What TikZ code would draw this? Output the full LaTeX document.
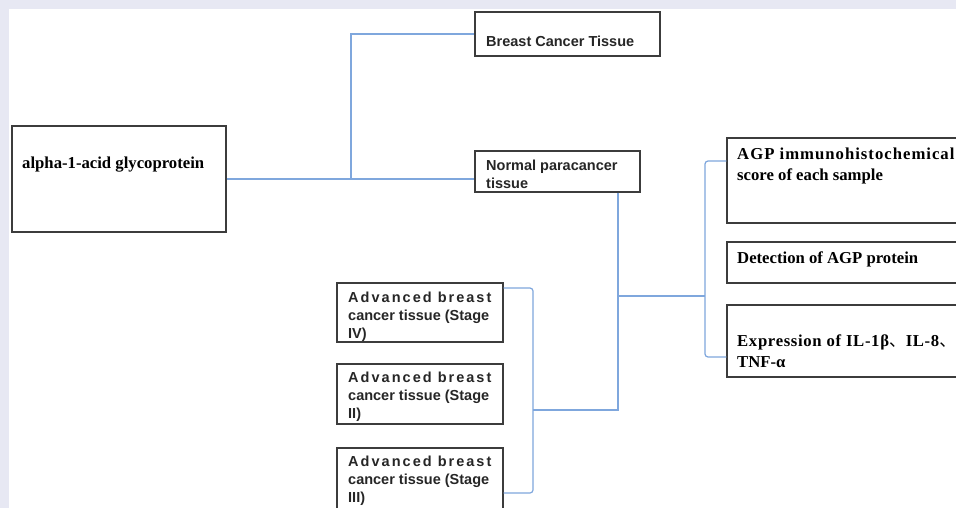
\documentclass[tikz,border=0pt]{standalone}
\usepackage{fontspec}
\setmainfont{Liberation Serif}
\newfontfamily\arial{Liberation Sans}
\newfontfamily\cjk{Noto Sans CJK SC}
\definecolor{bgframe}{HTML}{E7E8F3}
\definecolor{link}{HTML}{7FA7DD}
\definecolor{boxline}{HTML}{3C3C3C}
\tikzset{
  boxnode/.style={draw=boxline, line width=1.2pt, fill=white, inner sep=0pt, rectangle},
  serif/.style={font=\fontsize{16.7}{20.5}\selectfont\bfseries, inner sep=0pt, anchor=base west, align=left, text=black},
  sans/.style={font=\arial\fontsize{14.5}{17.7}\selectfont\bfseries, inner sep=0pt, anchor=base west, align=left, text=black!85},
  linkline/.style={draw=link, line width=1.2pt},
}
\begin{document}
\begin{tikzpicture}[x=1pt,y=-1pt]
\clip (0,0) rectangle (956,508);
\fill[bgframe] (0,0) rectangle (956,508);
\fill[white] (9,9) rectangle (970,520);
% boxes
\node[boxnode, minimum width=214pt, minimum height=106pt] (alpha) at (119,179) {};
\node[boxnode, minimum width=185pt, minimum height=44pt] (bct) at (567.5,34) {};
\node[boxnode, minimum width=165pt, minimum height=41pt] (npt) at (557.5,171.5) {};
\node[boxnode, minimum width=166pt, minimum height=59pt] (s4) at (420,312.5) {};
\node[boxnode, minimum width=166pt, minimum height=60pt] (s2) at (420,394) {};
\node[boxnode, minimum width=166pt, minimum height=70pt] (s3) at (420,483) {};
\node[boxnode, minimum width=250pt, minimum height=85pt] (agp) at (852,180.5) {};
\node[boxnode, minimum width=250pt, minimum height=41pt] (det) at (852,262.5) {};
\node[boxnode, minimum width=250pt, minimum height=72pt] (exp) at (852,341) {};
% texts (base anchor = last line baseline)
\node[serif] (talpha) at (22,168) {alpha-1-acid glycoprotein};
\node[sans] (tbct) at (486,47) {Breast Cancer Tissue};
\node[sans] (tnpt) at (486,188) {Normal paracancer\\tissue};
\node[sans] (ts4) at (348,338) {{\addfontfeature{LetterSpace=14}Advanced breast}\\cancer tissue (Stage\\IV)};
\node[sans] (ts2) at (348,418) {{\addfontfeature{LetterSpace=14}Advanced breast}\\cancer tissue (Stage\\II)};
\node[sans] (ts3) at (348,502) {{\addfontfeature{LetterSpace=14}Advanced breast}\\cancer tissue (Stage\\III)};
\node[serif] (tagp) at (737,180) {{\addfontfeature{LetterSpace=6}AGP immunohistochemical}\\score of each sample};
\node[serif] (tdet) at (737,263) {Detection of AGP protein};
\node[serif] (texp) at (737,367) {{\addfontfeature{LetterSpace=4}Expression of IL-1β}{\cjk\mdseries 、}{\addfontfeature{LetterSpace=4}IL-8}{\cjk\mdseries 、}\\TNF-α};
% junction coordinates
\coordinate (j1) at (351,179);
\coordinate (j2) at (618,296);
\coordinate (j3) at (705,296);
\coordinate (j4) at (618,410);
\coordinate (j5) at (533,410);
% connectors
\draw[linkline] (alpha.east |- j1) -- (npt.west |- j1);
\draw[linkline] (j1) |- (bct.west);
\draw[linkline] (npt.south -| j2) -- (j4) -- (j5);
\draw[linkline] (j2) -- (j3);
\draw[linkline, rounded corners=3pt] (agp.west |- 0,161) -- (705,161) -- (705,357) -- (agp.west |- 0,357);
\draw[linkline, rounded corners=3pt] (s4.east |- 0,288) -- (533,288) -- (533,493) -- (s3.east |- 0,493);
\end{tikzpicture}
\end{document}
